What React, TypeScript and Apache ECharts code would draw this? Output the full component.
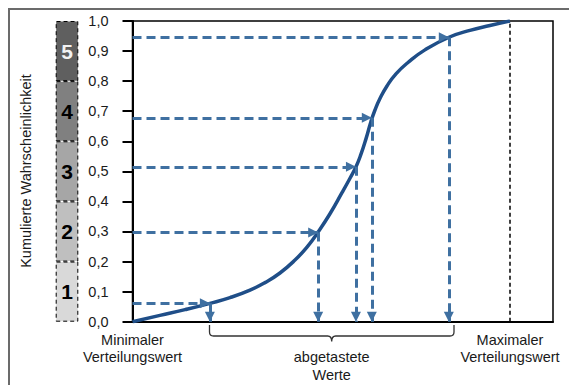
import React, { useEffect, useRef } from "react";
import * as echarts from "echarts";

// Cumulative distribution curve (x: 0 = minimum, 100 = maximum value)
const curveX = [0, 7.28, 13.91, 20.53, 25.83, 31.13, 35.1, 39.07, 43.05, 46.23, 49.22, 52.32, 55.5, 57.62, 59.21, 60.53, 61.85, 63.18, 64.24, 65.56, 67.42, 69.8, 72.98, 77.48, 83.84, 89.4, 94.7, 100];
const curveY = [0, 0.021, 0.04, 0.061, 0.08, 0.105, 0.13, 0.162, 0.205, 0.248, 0.299, 0.359, 0.429, 0.477, 0.515, 0.557, 0.608, 0.666, 0.704, 0.742, 0.784, 0.824, 0.862, 0.904, 0.946, 0.969, 0.985, 1.0];

// Sampled values (arrows)
const sampleX = [20.5, 49.2, 59.2, 63.4, 83.8];
const sampleY = [0.061, 0.297, 0.515, 0.678, 0.946];

// Probability bands on the left
const bandLabels = ["1", "2", "3", "4", "5"];
const bandValues = [0.2, 0.2, 0.2, 0.2, 0.2];
const bandColors = ["#d9d9d9", "#bfbfbf", "#a6a6a6", "#808080", "#5f5f5f"];
const bandTextColors = ["#000", "#000", "#000", "#000", "#f2f2f2"];

const yTicks = [0, 0.1, 0.2, 0.3, 0.4, 0.5, 0.6, 0.7, 0.8, 0.9, 1.0];
const maxValue = 100;

const FONT = "Liberation Sans, Arial, sans-serif";

export default function App() {
  const ref = useRef<HTMLDivElement>(null);
  useEffect(() => {
    if (!ref.current) return;
    const chart = echarts.init(ref.current, null, { renderer: "svg" });
    const braceD =
      "M209.5,325 L209.5,332 Q209.5,336 213.5,336 L327.7,336 Q331.7,336 331.7,341.5 Q331.7,336 335.7,336 L450,336 Q454,336 454,332 L454,325";
    echarts.graphic.registerShape("brace", echarts.graphic.extendPath(braceD, {}) as any);

    const arrowColor = "#3f70a1";
    const arrowLines: any[] = [];
    sampleX.forEach((x, i) => {
      arrowLines.push([{ coord: [0, sampleY[i]] }, { coord: [x, sampleY[i]] }]);
      arrowLines.push([{ coord: [x, sampleY[i]] }, { coord: [x, 0] }]);
    });

    const textStyle = (t: string, x: number, y: number) => ({
      type: "text",
      x,
      y,
      style: {
        text: t,
        fill: "#1a1a1a",
        font: `14.5px ${FONT}`,
        textAlign: "center",
        textVerticalAlign: "middle",
      },
    });

    chart.setOption({
      animation: false,
      grid: [
        {
          left: 132.5,
          right: 16,
          top: 21,
          bottom: 63.3,
          show: true,
          borderColor: "#000",
          borderWidth: 1.5,
          backgroundColor: "transparent",
        },
        { left: 55.7, width: 22.6, top: 21, bottom: 63.3 },
      ],
      xAxis: [
        {
          type: "value",
          gridIndex: 0,
          min: 0,
          max: 111.4,
          axisLine: { show: true, onZero: false, lineStyle: { color: "#000", width: 2 } },
          axisTick: { show: false },
          axisLabel: { show: false },
          splitLine: { show: false },
        },
        {
          type: "category",
          gridIndex: 1,
          data: ["p"],
          show: false,
        },
      ],
      yAxis: [
        {
          type: "value",
          gridIndex: 0,
          min: 0,
          max: 1,
          interval: 0.1,
          axisLine: { show: true, onZero: false, lineStyle: { color: "#000", width: 2 } },
          axisTick: { show: true, inside: false, length: 10, lineStyle: { color: "#000", width: 2 } },
          axisLabel: {
            margin: 24,
            color: "#1a1a1a",
            fontFamily: FONT,
            fontSize: 14.5,
            formatter: (v: number) => {
              const t = yTicks.find((k) => Math.abs(k - v) < 1e-6);
              return (t !== undefined ? t : v).toFixed(1).replace(".", ",");
            },
          },
          splitLine: { show: false },
        },
        { type: "value", gridIndex: 1, min: 0, max: 1, show: false },
      ],
      series: [
        ...bandValues.map((v, i) => ({
          type: "bar",
          xAxisIndex: 1,
          yAxisIndex: 1,
          stack: "bands",
          barWidth: "100%",
          silent: true,
          data: [v],
          itemStyle: {
            color: bandColors[i],
            borderColor: "#000",
            borderWidth: 1,
            borderType: [4, 3],
          },
          label: {
            show: true,
            position: "inside",
            formatter: bandLabels[i],
            fontFamily: FONT,
            fontWeight: "bold",
            fontSize: 21,
            color: bandTextColors[i],
          },
        })),
        {
          type: "line",
          xAxisIndex: 0,
          yAxisIndex: 0,
          data: [],
          silent: true,
          markLine: {
            silent: true,
            symbol: ["none", "none"],
            label: { show: false },
            emphasis: { disabled: true },
            lineStyle: { color: "#000", width: 1.5, type: [4, 3] },
            data: [[{ coord: [maxValue, 0] }, { coord: [maxValue, 1] }]],
          },
        },
        {
          type: "line",
          xAxisIndex: 0,
          yAxisIndex: 0,
          data: curveX.map((x, i) => [x, curveY[i]]),
          smooth: 0.5,
          showSymbol: false,
          silent: true,
          z: 3,
          lineStyle: { color: "#1f4e88", width: 3.5 },
        },
        {
          type: "line",
          xAxisIndex: 0,
          yAxisIndex: 0,
          data: [],
          silent: true,
          z: 4,
          markLine: {
            silent: true,
            symbol: ["none", "triangle"],
            symbolSize: 10,
            symbolOffset: [
              [0, 0],
              [0, 5],
            ],
            label: { show: false },
            emphasis: { disabled: true },
            lineStyle: { color: arrowColor, width: 3, type: [9, 5] },
            itemStyle: { color: arrowColor },
            data: arrowLines,
          },
        },
      ],
      graphic: [
        {
          type: "polyline",
          shape: { points: [[9, 390], [9, 9], [600, 9]] },
          style: { stroke: "#6b6b6b", lineWidth: 2, fill: "none" },
          silent: true,
        },
        {
          type: "text",
          x: 26,
          y: 171,
          rotation: Math.PI / 2,
          style: {
            text: "Kumulierte Wahrscheinlichkeit",
            fill: "#1a1a1a",
            font: `14.5px ${FONT}`,
            textAlign: "center",
            textVerticalAlign: "middle",
          },
        },
        textStyle("Minimaler", 132.5, 340),
        textStyle("Verteilungswert", 132.5, 357),
        textStyle("Maximaler", 510, 340),
        textStyle("Verteilungswert", 510, 357),
        textStyle("abgetastete", 331.7, 357),
        textStyle("Werte", 331.7, 375),
        {
          type: "brace",
          x: 0,
          y: 0,
          silent: true,
          style: { stroke: "#333", lineWidth: 1.3, fill: "none" },
        },
      ],
    });
    return () => chart.dispose();
  }, []);
  return (
    <div
      ref={ref}
      style={{ position: "fixed", left: 0, top: 0, width: 569, height: 385, background: "#fff" }}
    />
  );
}
